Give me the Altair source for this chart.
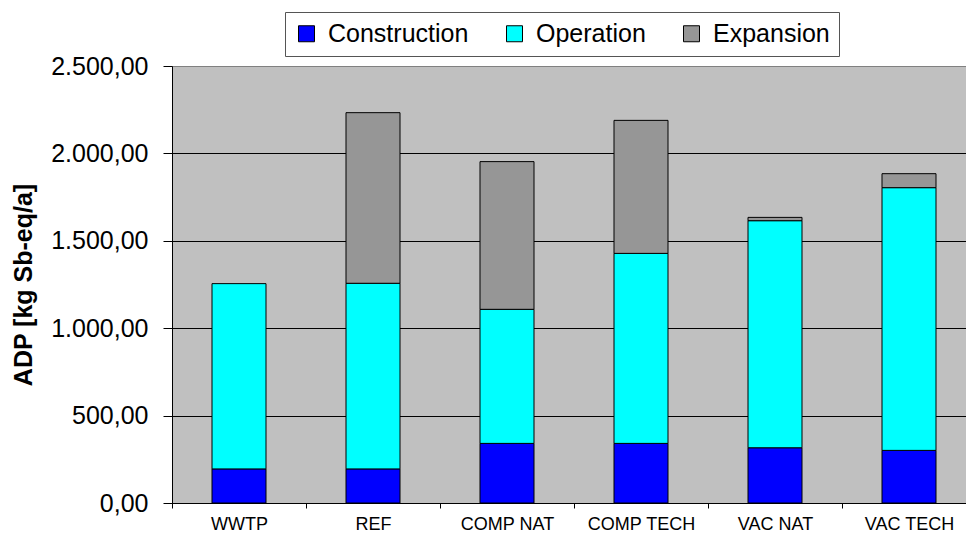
import altair as alt
import pandas as pd

categories = ["WWTP", "REF", "COMP NAT", "COMP TECH", "VAC NAT", "VAC TECH"]
construction = [195, 195, 341, 341, 316, 301]
operation = [1060, 1062, 767, 1087, 1299, 1503]
expansion = [0, 976, 845, 761, 19, 80]

series_names = ["Construction", "Operation", "Expansion"]
series_colors = ["#0000FF", "#00FFFF", "#969696"]

rows = []
for i, c in enumerate(categories):
    for k, (name, vals) in enumerate(zip(series_names, [construction, operation, expansion])):
        rows.append({"cat": c, "series": name, "value": vals[i], "ord": k})
df = pd.DataFrame(rows)

FONT = "Liberation Sans"

german = ("replace(replace(replace(format(datum.value, ',.2f'), ',', 'X'), '.', ','), 'X', '.')")

chart = (
    alt.Chart(df)
    .transform_filter("datum.value > 0")
    .mark_bar(size=54, stroke="black", strokeWidth=1)
    .encode(
        x=alt.X(
            "cat:N",
            sort=categories,
            scale=alt.Scale(range=[0, 804], paddingInner=0, paddingOuter=0),
            axis=alt.Axis(
                title=None,
                labelAngle=0,
                labelFont=FONT,
                labelFontSize=18,
                labelColor="black",
                labelPadding=7,
                tickBand="extent",
                tickSize=5,
                tickColor="black",
                domainColor="black",
                grid=False,
            ),
        ),
        y=alt.Y(
            "value:Q",
            stack="zero",
            scale=alt.Scale(domain=[0, 2500], nice=False),
            axis=alt.Axis(
                title="ADP [kg Sb-eq/a]",
                titleFont=FONT,
                titleFontSize=25,
                titleFontWeight="bold",
                titleColor="black",
                titlePadding=14,
                values=[0, 500, 1000, 1500, 2000, 2500],
                labelExpr=german,
                labelFont=FONT,
                labelFontSize=25,
                labelColor="black",
                labelPadding=15,
                tickSize=9,
                tickColor="black",
                domainColor="black",
                grid=True,
                gridColor={"condition": {"test": "datum.value >= 2500", "value": "#808080"}, "value": "black"},
                gridWidth=1,
            ),
        ),
        color=alt.Color(
            "series:N",
            sort=series_names,
            scale=alt.Scale(domain=series_names, range=series_colors),
            legend=alt.Legend(
                title=None,
                orient="none",
                legendX=113,
                legendY=-54,
                direction="horizontal",
                symbolType="square",
                symbolSize=256,
                symbolStrokeColor="black",
                symbolStrokeWidth=1,
                labelFont=FONT,
                labelFontSize=25,
                labelColor="black",
                labelOffset=9,
                columnPadding=33,
                padding=9,
                strokeColor="#555555",
                fillColor="white",
                labelLimit=300,
            ),
        ),
        order=alt.Order("ord:Q"),
    )
    .properties(
        width=794,
        height=437,
        autosize=alt.AutoSizeParams(type="none"),
        padding={"left": 172, "top": 66, "right": 0, "bottom": 32},
        background="white",
    )
    .configure_view(fill="#C0C0C0", stroke="#808080", strokeWidth=1)
)

chart.save("out.html", embed_options={"renderer": "svg", "actions": False})
